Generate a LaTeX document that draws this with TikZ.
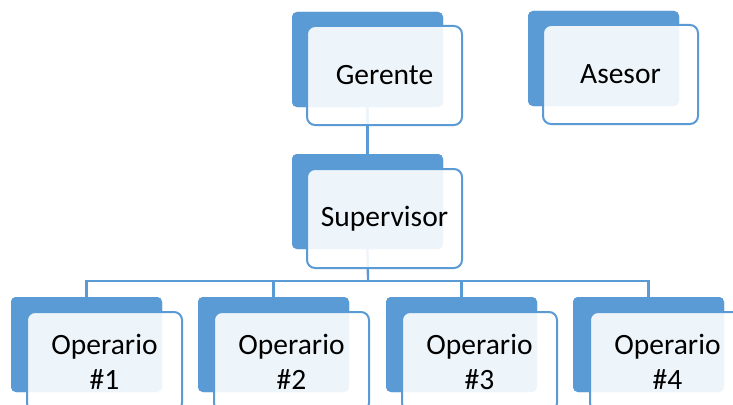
\documentclass[tikz,border=0pt]{standalone}
\usepackage{fontspec}
\setmainfont{Carlito}
\definecolor{accblue}{HTML}{5B9BD5}
\tikzset{
  backbox/.style={rectangle, rounded corners=5pt, fill=accblue, draw=none,
    minimum width=151pt, minimum height=95pt, inner sep=0pt, outer sep=0pt, anchor=north west},
  frontbox/.style={rectangle, rounded corners=8pt, fill=white, fill opacity=0.9, text opacity=1,
    draw=accblue, draw opacity=1, line width=2pt,
    minimum width=155pt, minimum height=99pt, inner sep=0pt, outer sep=0pt, anchor=north west,
    align=center, font=\fontsize{29.5}{35}\selectfont},
  conn/.style={draw=accblue, line width=2.3pt}
}
\begin{document}
\begin{tikzpicture}[x=1pt,y=-1pt]
\clip (0,0) rectangle (733,404);
\fill[white] (0,0) rectangle (733,404);
% back boxes
\node[backbox] (gb) at (292,12) {};
\node[backbox] (ab) at (528,11) {};
\node[backbox] (sb) at (292,154) {};
\node[backbox] (o1b) at (11,297) {};
\node[backbox] (o2b) at (198,297) {};
\node[backbox] (o3b) at (386,297) {};
\node[backbox] (o4b) at (573,297) {};
% connectors
\coordinate (bus) at (368,281);
\draw[conn] (gb.south) -- (sb.north);
\draw[conn] (sb.south) -- (bus);
\draw[conn] (o1b.north) |- (bus);
\draw[conn] (o2b.north) |- (bus);
\draw[conn] (o3b.north) |- (bus);
\draw[conn] (o4b.north) |- (bus);
% redraw back boxes above connectors
\node[backbox] at (292,12) {};
\node[backbox] at (528,11) {};
\node[backbox] at (292,154) {};
\node[backbox] at (11,297) {};
\node[backbox] at (198,297) {};
\node[backbox] at (386,297) {};
\node[backbox] at (573,297) {};
% front boxes
\node[frontbox] (g) at (307,26) {Gerente};
\node[frontbox] (a) at (543,25) {Asesor};
\node[frontbox] (s) at (307,169) {Supervisor};
\node[frontbox] (o1) at (27,312) {Operario\\\#1};
\node[frontbox] (o2) at (214,312) {Operario\\\#2};
\node[frontbox] (o3) at (402,312) {Operario\\\#3};
\node[frontbox] (o4) at (590,312) {Operario\\\#4};
\end{tikzpicture}
\end{document}
